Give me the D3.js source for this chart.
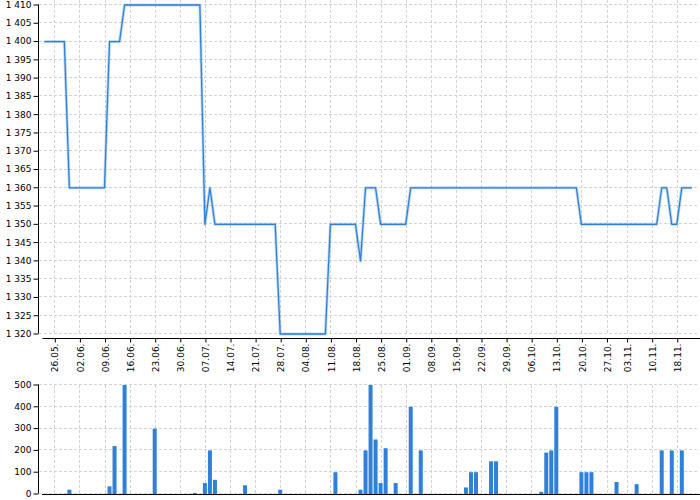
<!DOCTYPE html>
<html><head><meta charset="utf-8">
<script src="https://cdn.jsdelivr.net/npm/d3@7"></script>
<style>body{margin:0;background:#fff}svg{display:block}text{font-family:"DejaVu Sans",sans-serif;font-size:9px;fill:#000}</style>
</head><body><svg id="c" width="700" height="500"></svg>
<script>
// trading-day index of the first point
const firstIndex = -2;
const prices = [
1400,1400,1400,1400,1400,1360,1360,1360,1360,1360,
1360,1360,1360,1400,1400,1400,1410,1410,1410,1410,
1410,1410,1410,1410,1410,1410,1410,1410,1410,1410,
1410,1410,1350,1360,1350,1350,1350,1350,1350,1350,
1350,1350,1350,1350,1350,1350,1350,1320,1320,1320,
1320,1320,1320,1320,1320,1320,1320,1350,1350,1350,
1350,1350,1350,1340,1360,1360,1360,1350,1350,1350,
1350,1350,1350,1360,1360,1360,1360,1360,1360,1360,
1360,1360,1360,1360,1360,1360,1360,1360,1360,1360,
1360,1360,1360,1360,1360,1360,1360,1360,1360,1360,
1360,1360,1360,1360,1360,1360,1360,1350,1350,1350,
1350,1350,1350,1350,1350,1350,1350,1350,1350,1350,
1350,1350,1350,1360,1360,1350,1350,1360,1360,1360];
const volumes = [
0,0,0,0,0,20,0,0,0,0,
0,0,0,35,220,0,500,0,0,0,
0,0,300,0,0,0,0,0,0,0,
5,0,50,200,65,0,0,0,0,0,
40,0,0,0,0,0,0,20,0,0,
0,0,0,0,0,0,0,0,100,0,
0,0,0,20,200,500,250,50,210,0,
50,0,0,400,0,200,0,0,0,0,
0,0,0,0,30,100,100,0,0,150,
150,0,0,0,0,0,0,0,0,10,
190,200,400,0,0,0,0,100,100,100,
0,0,0,0,55,0,0,0,45,0,
0,0,0,200,0,200,0,200,0,0];
const tickLabels = ["26.05.","02.06.","09.06.","16.06.","23.06.","30.06.","07.07.","14.07.","21.07.","28.07.","04.08.","11.08.","18.08.","25.08.","01.09.","08.09.","15.09.","22.09.","29.09.","06.10.","13.10.","20.10.","27.10.","03.11.","10.11.","18.11."];
const tickIndex = [0,5,10,15,20,25,30,35,40,45,50,55,60,65,70,75,80,85,90,95,100,105,110,114,119,124];
const priceTicks = [1320,1325,1330,1335,1340,1345,1350,1355,1360,1365,1370,1375,1380,1385,1390,1395,1400,1405,1410];
const volumeTicks = [0,100,200,300,400,500];

const blue = "#2f80d8";
const gridColor = "#d4d4d4";
const svg = d3.select("#c");
const x = d3.scaleLinear().domain([-3, 128]).range([39.24, 696.86]);
const yP = d3.scaleLinear().domain([1320, 1410]).range([334, 5]);
const yV = d3.scaleLinear().domain([0, 500]).range([494, 385]);
const fmt = v => { const s = String(v); return s.length > 3 ? s.slice(0, s.length-3) + " " + s.slice(-3) : s; };
const px = v => Math.round(v) + 0.5;

const data = prices.map((p, k) => ({i: firstIndex + k, p, v: volumes[k]}));

// ---- grids ----
const g = svg.append("g").attr("stroke", gridColor).attr("stroke-dasharray", "3,2").attr("stroke-width", 1);
priceTicks.forEach(t => g.append("line").attr("x1", 39).attr("x2", 697).attr("y1", px(yP(t))-1).attr("y2", px(yP(t))-1));
tickIndex.forEach(t => g.append("line").attr("x1", px(x(t))).attr("x2", px(x(t))).attr("y1", 0).attr("y2", 334));
volumeTicks.forEach(t => g.append("line").attr("x1", 39).attr("x2", 697).attr("y1", px(yV(t))-1).attr("y2", px(yV(t))-1));
tickIndex.forEach(t => g.append("line").attr("x1", px(x(t))).attr("x2", px(x(t))).attr("y1", 385).attr("y2", 494));

// ---- price line ----
const line = d3.line().x(d => x(d.i)).y(d => yP(d.p));
svg.append("path").datum(data).attr("d", line).attr("fill", "none").attr("stroke", blue).attr("stroke-opacity", 0.3).attr("stroke-width", 3).attr("stroke-linejoin", "round");
svg.append("path").datum(data).attr("d", line).attr("fill", "none").attr("stroke", blue).attr("stroke-width", 1.3).attr("stroke-linejoin", "round");

// ---- volume bars ----
svg.append("g").selectAll("rect").data(data.filter(d => d.v > 0)).join("rect")
  .attr("x", d => x(d.i) - 2).attr("width", 4)
  .attr("y", d => yV(d.v)).attr("height", d => yV(0) - yV(d.v))
  .attr("fill", blue);

// ---- axes (top) ----
const yAxisP = d3.axisLeft(yP).tickValues(priceTicks).tickFormat(fmt).tickSize(5).tickPadding(2);
const ga = svg.append("g").attr("transform", "translate(38.5,-0.5)").call(yAxisP);
ga.select(".domain").attr("d", "M0," + yP(1410) + "V" + yP(1320)).attr("stroke", "#000");
ga.selectAll(".tick line").attr("stroke", "#000");
ga.selectAll("text").attr("font-family", "DejaVu Sans").attr("font-size", 9).attr("fill", "#000");

const xAxisP = d3.axisBottom(x).tickValues(tickIndex).tickFormat((d, k) => tickLabels[k]).tickSize(4).tickSizeOuter(0);
const gx = svg.append("g").attr("transform", "translate(0.5,338.5)").call(xAxisP);
gx.select(".domain").attr("d", "M42,0H700").attr("stroke", "#000");
gx.selectAll(".tick line").attr("stroke", "#000");
gx.selectAll(".tick text").attr("font-family", "DejaVu Sans").attr("font-size", 9).attr("fill", "#000")
  .attr("transform", "rotate(-90)").attr("text-anchor", "end").attr("x", -5).attr("y", 0).attr("dy", "0.35em");

// ---- axes (bottom) ----
const yAxisV = d3.axisLeft(yV).tickValues(volumeTicks).tickSize(5).tickPadding(2);
const gv = svg.append("g").attr("transform", "translate(38.5,-0.5)").call(yAxisV);
gv.select(".domain").attr("d", "M0," + yV(500) + "V" + yV(0)).attr("stroke", "#000");
gv.selectAll(".tick line").attr("stroke", "#000");
gv.selectAll("text").attr("font-family", "DejaVu Sans").attr("font-size", 9).attr("fill", "#000");
svg.append("line").attr("x1", 42).attr("x2", 700).attr("y1", 494.5).attr("y2", 494.5).attr("stroke", "#000");
</script></body></html>
